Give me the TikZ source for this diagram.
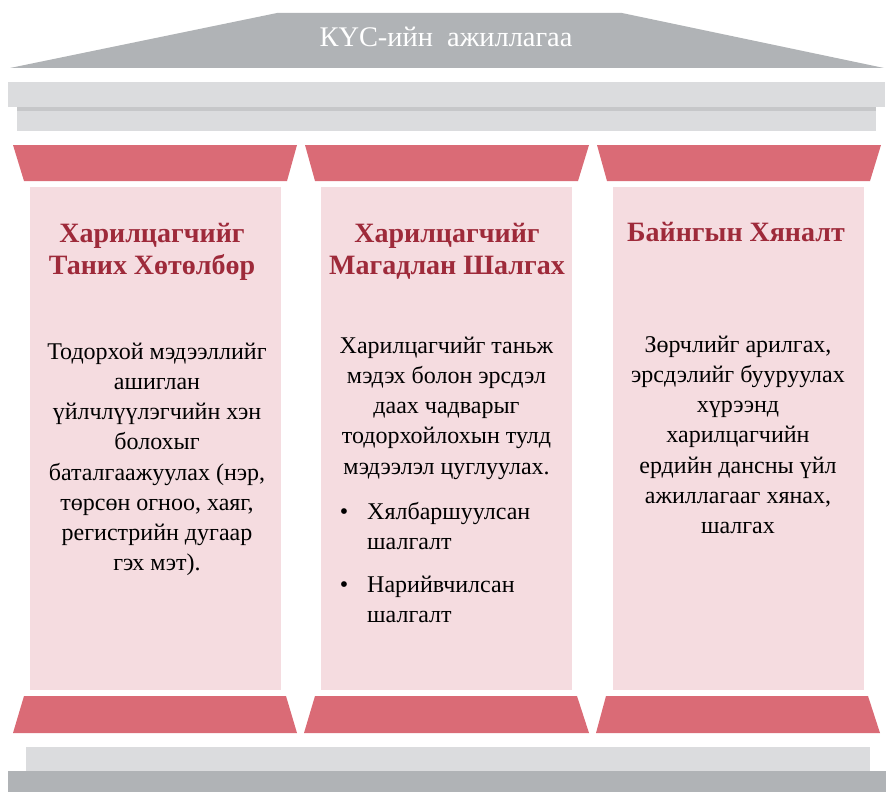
\documentclass[tikz,border=0pt]{standalone}
\usepackage{fontspec}
\setmainfont{Liberation Serif}
\definecolor{roofgray}{HTML}{B0B3B6}
\definecolor{barlight}{HTML}{DBDCDE}
\definecolor{barline}{HTML}{C6C7C9}
\definecolor{capred}{HTML}{DA6B76}
\definecolor{shaftpink}{HTML}{F5DCE0}
\definecolor{titlered}{HTML}{9E2A3A}
\begin{document}
\begin{tikzpicture}[x=1pt,y=-1pt,
  rooftext/.style={font=\fontsize{28.4}{32}\selectfont, text=white, anchor=base, inner sep=0pt},
  titletext/.style={font=\fontsize{28}{32}\selectfont\bfseries, text=titlered, align=center, anchor=north, inner sep=0pt},
  bodytext/.style={font=\fontsize{24}{30.2}\selectfont, text=black, align=center, anchor=north, inner sep=0pt},
  itemtext/.style={font=\fontsize{24}{30.2}\selectfont, text=black, align=left, anchor=north west, inner sep=0pt},
  bulletmark/.style={font=\fontsize{24}{30.2}\selectfont, text=black, anchor=base, inner sep=0pt},
  capital/.style={fill=capred},
  shaft/.style={fill=shaftpink}]
\useasboundingbox (0,0) rectangle (886,792);
% roof
\fill[roofgray] (10,68) -- (277,13) -- (622,13) -- (884,68) -- cycle;
\node[rooftext] (roof) at (446,47) {КҮС-ийн\ \ ажиллагаа};
% entablature
\fill[barlight] (8,82) rectangle (885,107);
\fill[barline] (17,107) rectangle (876,111);
\fill[barlight] (17,111) rectangle (876,131);
% capitals
\fill[capital] (13,145) -- (297,145) -- (287,181) -- (24,181) -- cycle;
\fill[capital] (305,145) -- (589,145) -- (578,181) -- (315,181) -- cycle;
\fill[capital] (597,145) -- (881,145) -- (870,181) -- (607,181) -- cycle;
% shafts
\fill[shaft] (30,187) rectangle (281,690);
\fill[shaft] (321,187) rectangle (572,690);
\fill[shaft] (613,187) rectangle (864,690);
% bases
\fill[capital] (24,696) -- (286,696) -- (297,733) -- (13,733) -- cycle;
\fill[capital] (315,696) -- (577,696) -- (589,733) -- (304,733) -- cycle;
\fill[capital] (606,696) -- (868,696) -- (880,733) -- (596,733) -- cycle;
% stylobate
\fill[barlight] (26,747) rectangle (870,771);
\fill[roofgray] (8,771) rectangle (886,792);
% titles
\node[titletext] (t1) at (152,219.6) {\strut Харилцагчийг\\Таних Хөтөлбөр};
\node[titletext] (t2) at (447,219.6) {\strut Харилцагчийг\\Магадлан Шалгах};
\node[titletext] (t3) at (736,218.6) {\strut Байнгын Хяналт};
% bodies
\node[bodytext] (b1) at (157,337.9) {\strut Тодорхой мэдээллийг\\ашиглан\\үйлчлүүлэгчийн хэн\\болохыг\\баталгаажуулах (нэр,\\төрсөн огноо, хаяг,\\регистрийн дугаар\\гэх мэт).};
\node[bodytext] (b2) at (446.5,331.9) {\strut Харилцагчийг таньж\\мэдэх болон эрсдэл\\даах чадварыг\\тодорхойлохын тулд\\мэдээлэл цуглуулах.};
\node[bulletmark] (d1) at (344,519) {•};
\node[itemtext] (i1) at (367,497.9) {\strut Хялбаршуулсан\\шалгалт};
\node[bulletmark] (d2) at (344,592) {•};
\node[itemtext] (i2) at (367,570.9) {\strut Нарийвчилсан\\шалгалт};
\node[bodytext] (b3) at (738,330.9) {\strut Зөрчлийг арилгах,\\эрсдэлийг бууруулах\\хүрээнд\\харилцагчийн\\ердийн дансны үйл\\ажиллагааг хянах,\\шалгах};
\end{tikzpicture}
\end{document}
